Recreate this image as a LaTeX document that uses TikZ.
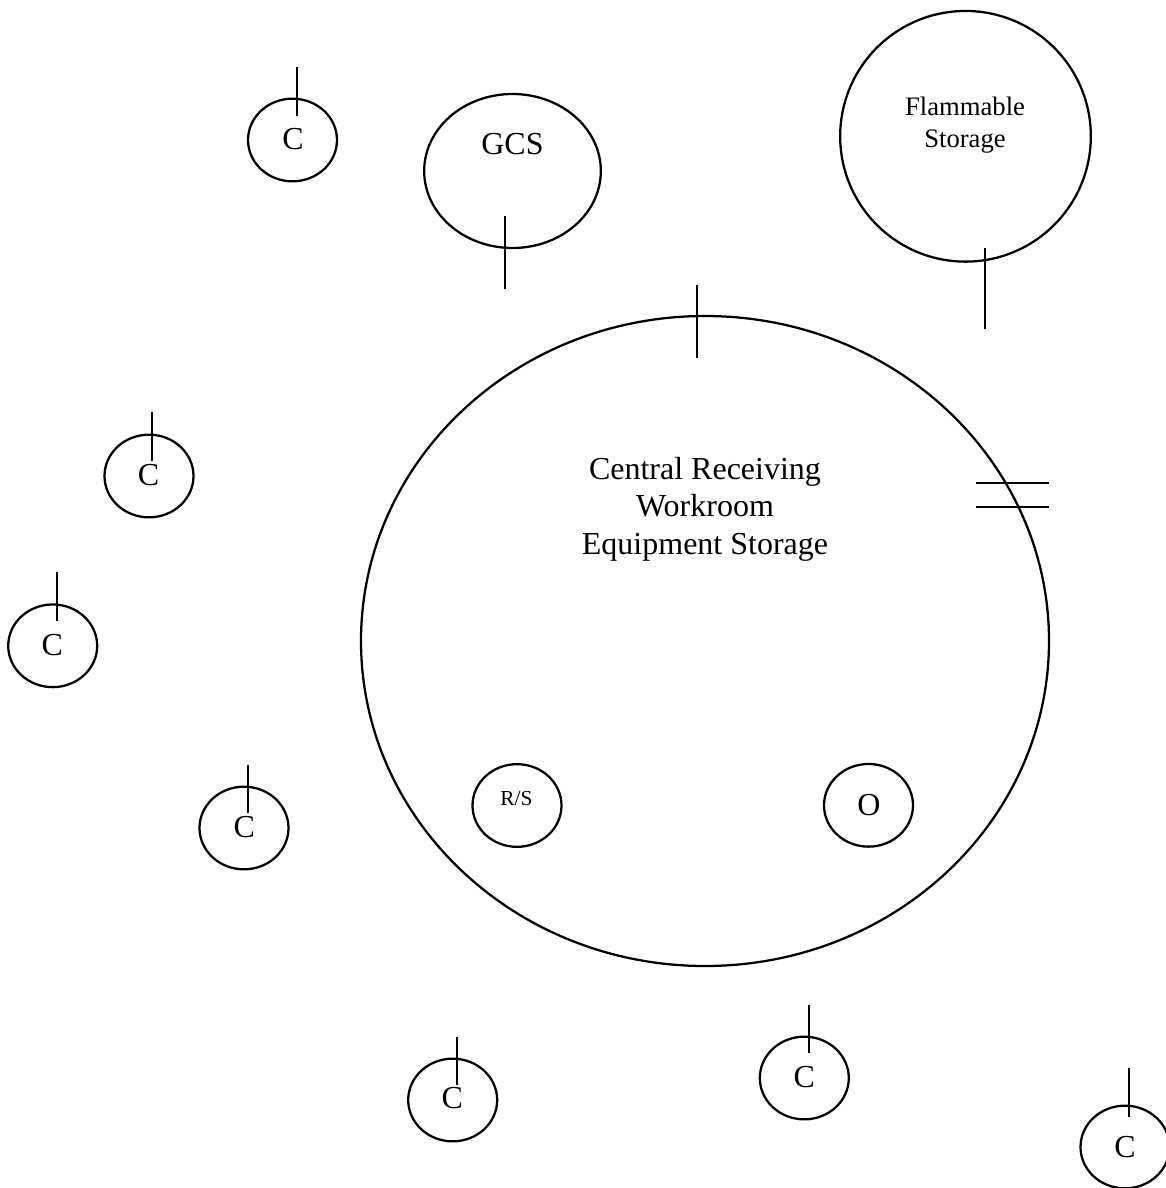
\documentclass[tikz,border=0pt]{standalone}
\usepackage{fontspec}
\setmainfont{Liberation Serif}
\usetikzlibrary{shapes.geometric}
\tikzset{
  x=0.75pt,y=-0.75pt,
  room/.style={draw=black,line width=1.7pt,ellipse,inner sep=0pt,outer sep=0pt},
  small/.style={room,minimum width=66.75pt,minimum height=62pt},
  tick/.style={draw=black,line width=1.15pt},
  lab/.style={inner sep=0pt,align=center,text=black},
  labbig/.style={lab,font=\fontsize{24}{28.1}\selectfont},
  labmid/.style={lab,font=\fontsize{24}{28}\selectfont},
  labsm/.style={lab,font=\fontsize{20}{23.5}\selectfont},
  labtiny/.style={lab,font=\fontsize{16}{18}\selectfont}
}
\begin{document}
\begin{tikzpicture}
\path[use as bounding box,fill=white] (0,0) rectangle (1166,1188);
\clip (0,0) rectangle (1166,1188);
% rooms
\node[room,minimum width=516pt,minimum height=487.5pt] (big) at (705,641) {};
\node[room,minimum width=132.5pt,minimum height=115.5pt] (gcs) at (512.5,171) {};
\node[room,minimum width=188pt,minimum height=188pt] (flam) at (965.5,136.3) {};
\node[small] (rs) at (517,805.5) {};
\node[small] (o) at (868.5,805.3) {};
\node[small] (c1) at (292.5,140) {};
\node[small] (c2) at (149,476) {};
\node[small] (c3) at (52.7,645.8) {};
\node[small] (c4) at (244,828) {};
\node[small] (c5) at (452.7,1100) {};
\node[small] (c6) at (804.3,1078) {};
\node[small] (c7) at (1125,1147) {};
% labels
\node[labbig] (tbig) at (705,509) {Central Receiving\\Workroom\\Equipment Storage};
\node[labmid] (tgcs) at (512.5,144.5) {GCS};
\node[labsm] (tflam) at (965,125) {Flammable\\Storage};
\node[labtiny] (trs) at (516.5,799) {R/S};
\node[labmid] (to) at (868.8,805.5) {O};
\node[labmid] (t1) at (293,139.5) {C};
\node[labmid] (t2) at (148.5,475.3) {C};
\node[labmid] (t3) at (52.3,645) {C};
\node[labmid] (t4) at (244.3,827) {C};
\node[labmid] (t5) at (452.3,1098.5) {C};
\node[labmid] (t6) at (804.3,1077) {C};
\node[labmid] (t7) at (1125,1147) {C};
% door ticks
\foreach \n/\xa/\ya/\xb/\yb in {a/297/67/297/116,b/505/216/505/289.3,d/985/247.5/985/329,e/697/284.5/697/357.5,f/152/412/152/461,g/57/572/57/621,h/248/764.5/248/813,i/457/1036.5/457/1085,j/809/1004.5/809/1053.3,k/1129/1068/1129/1117,l/976/483/1049/483,m/976/507/1049/507}{
  \coordinate (\n1) at (\xa,\ya);
  \coordinate (\n2) at (\xb,\yb);
  \draw[tick] (\n1) -- (\n2);
}
\end{tikzpicture}
\end{document}
